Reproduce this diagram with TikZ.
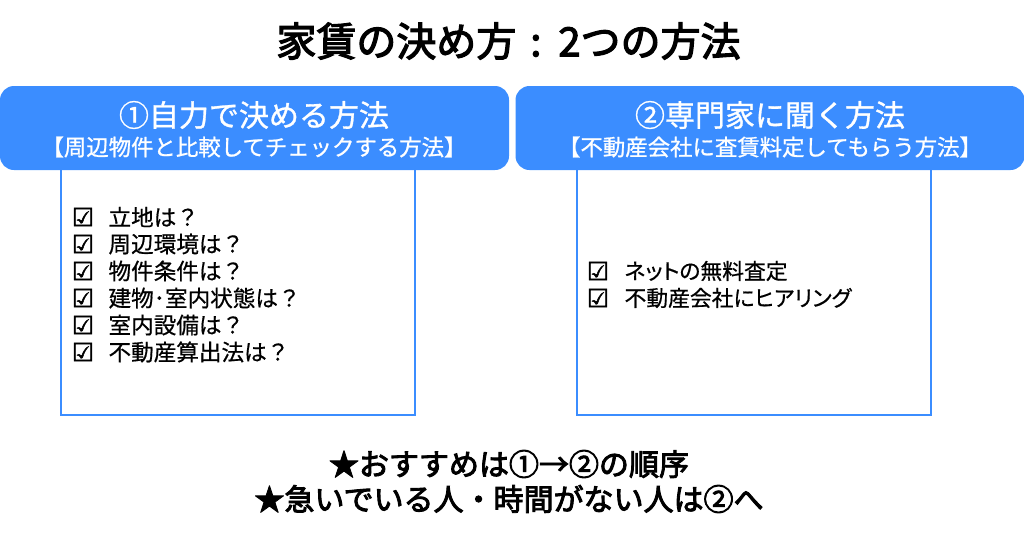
\documentclass[tikz,border=0pt]{standalone}
\usepackage{fontspec}
\setmainfont{Noto Sans CJK JP}
\newfontfamily\symfont[FakeBold=2]{DejaVu Sans}
\newfontfamily\medfont[FakeBold=1]{Noto Sans CJK JP}
\newfontfamily\lightfont[FakeBold=0.6]{Noto Sans CJK JP}
\newfontfamily\heavyfont[FakeBold=3]{Noto Sans CJK JP}
\newfontfamily\palfont[FakeBold=0.6,RawFeature=+palt]{Noto Sans CJK JP}
\usetikzlibrary{positioning}
\definecolor{headblue}{RGB}{59,141,255}
\tikzset{
headbox/.style={draw=none,fill=headblue,rounded corners=14pt,minimum width=509pt,minimum height=84pt},
bodybox/.style={draw=headblue,line width=1.5pt,fill=white,minimum width=354pt,minimum height=246pt},
headtext/.style={text=white,font=\medfont\fontsize{30}{30}\selectfont},
subtext/.style={text=white,font=\medfont\fontsize{22.4}{22.4}\selectfont},
itemtext/.style={font=\lightfont\fontsize{22.6}{22.6}\selectfont,anchor=west},
palitem/.style={font=\palfont\fontsize{21.8}{21.8}\selectfont,anchor=west},
chk/.style={font=\symfont\fontsize{25}{25}\selectfont,anchor=center},
bigtext/.style={font=\heavyfont\fontsize{30}{30}\selectfont}
}
\begin{document}
\begin{tikzpicture}[x=1pt,y=-1pt]
\useasboundingbox (0,0) rectangle (1024,536);
\node[font=\heavyfont\fontsize{40}{40}\selectfont] (title) at (508.5,41) {家賃の決め方\hspace{5pt} : \hspace{5pt}2つの方法};
% left
\node[bodybox] (leftbody) at (238,292) {};
\node[headbox] (lefthead) at (254.5,128) {};
\node[headtext] (lefttitle) at (254,115) {①自力で決める方法};
\node[subtext] (leftsub) at (254,147) {【周辺物件と比較してチェックする方法】};
% right
\node[bodybox] (rightbody) at (754,292) {};
\node[headbox] (righthead) at (770,128) {};
\node[headtext] (righttitle) at (770,115) {②専門家に聞く方法};
\node[subtext] (rightsub) at (770,147) {【不動産会社に査賃料定してもらう方法】};
% left items
\foreach \n/\y/\t in {a/217/立地は？,b/244/周辺環境は？,c/271/物件条件は？,d/298/建物･室内状態は？,e/325/室内設備は？,f/352/不動産算出法は？}{
  \node[chk] (chk\n) at (83,\y) {☑};
  \node[itemtext] (item\n) at (105,\y) {\t};
}
% right items
\foreach \n/\y/\t in {g/271/ネットの無料査定,h/298/不動産会社にヒアリング}{
  \node[chk] (chk\n) at (598,\y) {☑};
  \node[palitem] (item\n) at (621,\y) {\t};
}
\node[bigtext] (notea) at (509,464) {★おすすめは①→②の順序};
\node[bigtext] (noteb) at (509,499) {★急いでいる人・時間がない人は②へ};
\end{tikzpicture}
\end{document}
